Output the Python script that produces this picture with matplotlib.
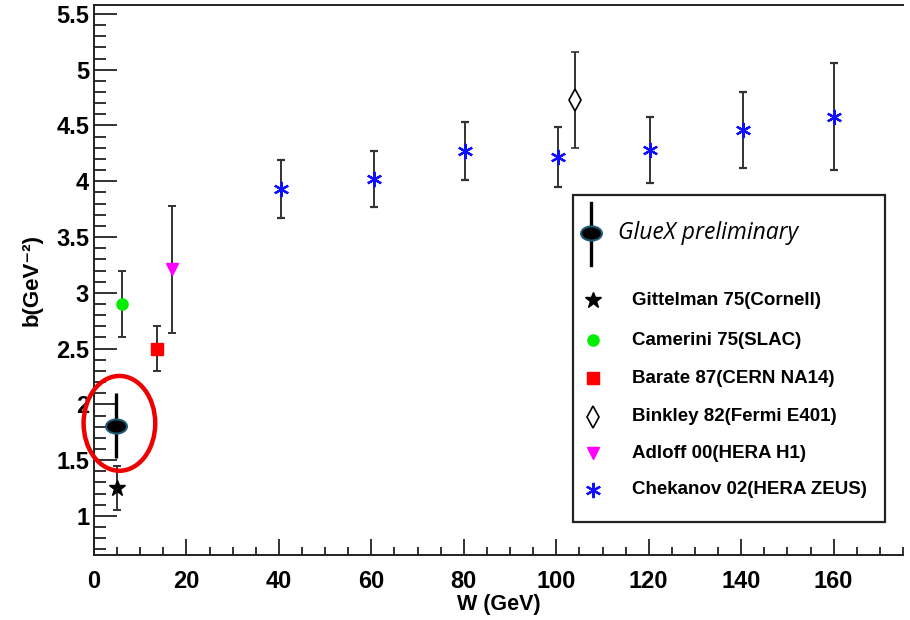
import matplotlib
matplotlib.use("Agg")
import matplotlib.pyplot as plt
import numpy as np
from matplotlib.path import Path
from matplotlib.patches import Ellipse, Rectangle
from matplotlib.ticker import MultipleLocator, FuncFormatter

plt.rcParams['font.family'] = ['Liberation Sans', 'DejaVu Sans']

# GlueX preliminary
gluex_w = [4.8]
gluex_b = [1.81]
gluex_err = [0.29]

# older measurements
gitt_w, gitt_b, gitt_err = [4.9], [1.25], [0.20]
cam_w, cam_b, cam_err = [6.1], [2.90], [0.30]
bar_w, bar_b, bar_err = [13.7], [2.50], [0.20]
bink_w, bink_b, bink_err = [104.0], [4.73], [0.43]
adl_w, adl_b, adl_err = [16.9], [3.21], [0.57]

chek_w = [40.5, 60.5, 80.3, 100.3, 120.2, 140.3, 160.0]
chek_b = [3.93, 4.02, 4.27, 4.22, 4.28, 4.46, 4.58]
chek_err = [0.26, 0.25, 0.26, 0.27, 0.30, 0.34, 0.48]

labels = ["Gittelman 75(Cornell)", "Camerini 75(SLAC)", "Barate 87(CERN NA14)",
          "Binkley 82(Fermi E401)", "Adloff 00(HERA H1)", "Chekanov 02(HERA ZEUS)"]

# ellipse marker for GlueX point
ell = Path.unit_circle()
ell = Path(ell.vertices * np.array([1.0, 0.68]), ell.codes)
asterisk = (6, 2, 0)

fig = plt.figure(figsize=(9.1, 6.2), dpi=100)
ax = fig.add_axes([94/910, 1 - 555/620, 809/910, 550/620])

ebar = dict(ecolor='#333333', elinewidth=1.4, capsize=2.6, capthick=1.4, ls='none')

ax.errorbar(chek_w, chek_b, yerr=chek_err, marker=asterisk, ms=11, mec='#1010ff', mew=1.6, **ebar)
ax.errorbar(bink_w, bink_b, yerr=bink_err, marker='d', ms=11, mfc='white', mec='black', mew=1.2, **ebar)
ax.errorbar(adl_w, adl_b, yerr=adl_err, marker='v', ms=9, color='#ff00ff', **ebar)
ax.errorbar(bar_w, bar_b, yerr=bar_err, marker='s', ms=8, color='#ff0000', **ebar)
ax.errorbar(cam_w, cam_b, yerr=cam_err, marker='o', ms=8, color='#00ee00', mec='#00ee00', **ebar)
ax.errorbar(gitt_w, gitt_b, yerr=gitt_err, marker='*', ms=12, color='black', **ebar)
ax.errorbar(gluex_w, gluex_b, yerr=gluex_err, marker=ell, ms=15, mfc='black', mec='#1d5a78',
            mew=1.5, ecolor='black', elinewidth=2.4, capsize=0, ls='none', zorder=5)

# red circle around GlueX point
ax.add_patch(Ellipse((5.5, 1.83), 15.5, 0.85, fill=False, ec='#ee0000', lw=3.2, clip_on=False, zorder=6))

ax.set_xlim(0, 175)
ax.set_ylim(0.65, 5.58)
ax.xaxis.set_major_locator(MultipleLocator(20))
ax.xaxis.set_minor_locator(MultipleLocator(5))
ax.yaxis.set_major_locator(MultipleLocator(0.5))
ax.yaxis.set_minor_locator(MultipleLocator(0.1))
ax.yaxis.set_major_formatter(FuncFormatter(lambda v, p: f"{v:g}"))

ax.tick_params(axis='both', which='both', direction='in', width=1.3, colors='#222222',
               labelcolor='black', labelsize=17)
ax.tick_params(axis='x', which='major', length=11.5, pad=11)
ax.tick_params(axis='x', which='minor', length=5.5)
ax.tick_params(axis='y', which='major', length=16.5, pad=3.5)
ax.tick_params(axis='y', which='minor', length=8.5)
for t in ax.get_xticklabels() + ax.get_yticklabels():
    t.set_fontweight('bold')

ax.spines['right'].set_visible(False)
for s in ['left', 'bottom', 'top']:
    ax.spines[s].set_linewidth(1.4)
    ax.spines[s].set_color('#222222')

ax.set_xlabel('W (GeV)', fontsize=15.5, fontweight='bold')
ax.set_ylabel('b(GeV\u207b\u00b2)', fontsize=16, fontweight='bold',
              family=['Liberation Sans', 'DejaVu Sans'])
ax.xaxis.set_label_coords(0.5, -0.09)
ax.xaxis.label.set_va('center')
ax.yaxis.set_label_coords(-0.077, 0.5)
ax.yaxis.label.set_va('center')

# legend box drawn by hand
ax.add_patch(Rectangle((0.592, 0.0605), 0.386, 0.594, transform=ax.transAxes, fill=False,
                       ec='#222222', lw=1.6, zorder=7))
ax.plot([0.614, 0.614], [0.527, 0.6405], transform=ax.transAxes, color='black', lw=2.4, zorder=8)
ax.plot([0.614], [0.585], transform=ax.transAxes, marker=ell, ms=15, mfc='black', mec='#1d5a78',
        mew=1.5, ls='none', zorder=9)
ax.text(0.648, 0.585, 'GlueX preliminary', transform=ax.transAxes, fontsize=16.5, style='italic',
        family=['Open Sans', 'DejaVu Sans'], va='center', ha='left')

leg_y = [0.4636, 0.3909, 0.3213, 0.2515, 0.1849, 0.1182]
leg_m = [dict(marker='*', ms=12, color='black'),
         dict(marker='o', ms=8, color='#00ee00'),
         dict(marker='s', ms=8, color='#ff0000'),
         dict(marker='d', ms=11, mfc='white', mec='black', mew=1.2),
         dict(marker='v', ms=9, color='#ff00ff'),
         dict(marker=asterisk, ms=11, mec='#1010ff', mew=1.6)]
for y, lab, m in zip(leg_y, labels, leg_m):
    ax.plot([0.617], [y], transform=ax.transAxes, ls='none', zorder=8, **m)
    ax.text(0.665, y, lab, transform=ax.transAxes, fontsize=13.5, fontweight='bold',
            va='center', ha='left')

fig.savefig('out.png', dpi=100)
